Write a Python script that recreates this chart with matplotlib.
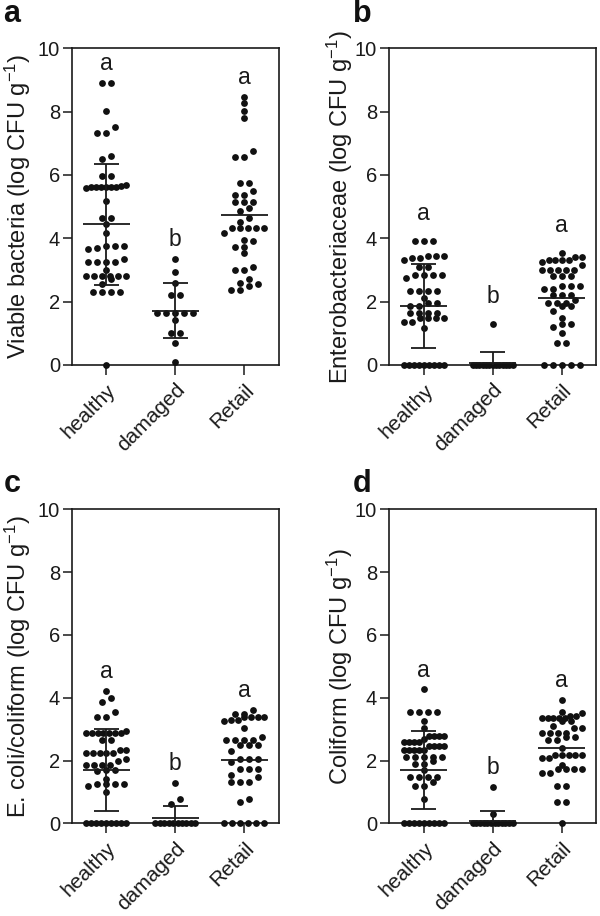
import matplotlib
matplotlib.use('Agg')
import matplotlib.pyplot as plt
import numpy as np

plt.rcParams['font.family'] = ['Liberation Sans', 'DejaVu Sans']
plt.rcParams['mathtext.fontset'] = 'custom'
plt.rcParams['mathtext.rm'] = 'Liberation Sans'
plt.rcParams['mathtext.it'] = 'Liberation Sans:italic'
plt.rcParams['mathtext.bf'] = 'Liberation Sans:bold'

groups = ['healthy', 'damaged', 'Retail']
y_ticks = [0, 2, 4, 6, 8, 10]

# ---- panel a: viable bacteria ----
viable_healthy = [8.92, 8.92, 8.02, 7.5, 7.34, 7.34, 6.61, 6.5, 5.97, 5.97,
                  5.68, 5.63, 5.63, 5.63, 5.66, 5.6, 5.63, 5.63, 5.63, 5.18,
                  4.63, 4.63, 4.44, 4.18, 3.76, 3.76, 3.76, 3.7, 3.65, 3.35,
                  3.26, 3.26, 3.26, 3.26, 3.0, 2.81, 2.81, 2.81, 2.81, 2.81,
                  2.81, 2.7, 2.55, 2.32, 2.32, 2.32, 2.32, 0.0]
viable_damaged = [3.35, 2.95, 2.6, 2.2, 2.2, 1.65, 1.65, 1.65, 1.65, 1.65,
                  1.42, 1.0, 1.0, 0.7, 0.1]
viable_retail = [8.47, 8.26, 8.02, 7.79, 6.76, 6.58, 6.58, 5.76, 5.76, 5.5,
                 5.37, 5.37, 5.16, 5.16, 5.16, 4.95, 4.85, 4.63, 4.5, 4.34,
                 4.34, 4.34, 4.34, 4.34, 4.18, 3.95, 3.9, 3.74, 3.74, 3.55,
                 3.1, 3.0, 3.0, 2.7, 2.6, 2.55, 2.5, 2.37, 2.37]
viable_mean = [4.44, 1.72, 4.74]
viable_sd = [1.91, 0.87, None]
viable_letters = ['a', 'b', 'a']

# ---- panel b: Enterobacteriaceae ----
entero_healthy = [3.92, 3.92, 3.92, 3.45, 3.45, 3.45, 3.38, 3.38, 3.3, 3.1,
                  3.1, 2.85, 2.85, 2.85, 2.85, 2.75, 2.33, 2.33, 2.33, 2.33,
                  2.1, 1.95, 1.95, 1.87, 1.87, 1.65, 1.65, 1.65, 1.65, 1.47,
                  1.47, 1.47, 1.47, 1.35, 1.35, 1.16, 0, 0, 0, 0, 0, 0, 0, 0, 0]
entero_damaged = [1.3, 0, 0, 0, 0, 0, 0, 0, 0, 0, 0, 0, 0, 0]
entero_retail = [3.55, 3.4, 3.4, 3.32, 3.32, 3.32, 3.32, 3.25, 3.15, 3.0,
                 3.0, 3.0, 3.0, 3.0, 2.8, 2.8, 2.8, 2.5, 2.5, 2.5, 2.4, 2.4,
                 2.2, 2.2, 2.2, 2.05, 1.95, 1.95, 1.95, 1.85, 1.85, 1.7, 1.47,
                 1.3, 1.3, 1.2, 1.0, 0.68, 0.68, 0, 0, 0, 0, 0]
entero_mean = [1.87, 0.07, 2.1]
entero_sd = [1.32, 0.33, None]
entero_letters = ['a', 'b', 'a']

# ---- panel c: E. coli/coliform ----
ecoli_healthy = [4.22, 3.98, 3.87, 3.56, 3.4, 3.4, 2.95, 2.87, 2.87, 2.87,
                 2.87, 2.87, 2.87, 2.87, 2.65, 2.65, 2.35, 2.35, 2.25, 2.25,
                 2.25, 2.25, 2.25, 2.05, 2.0, 1.86, 1.86, 1.86, 1.86, 1.7,
                 1.7, 1.65, 1.41, 1.25, 1.25, 1.25, 1.25, 1.2, 0.99,
                 0, 0, 0, 0, 0, 0, 0, 0, 0]
ecoli_damaged = [1.27, 0.76, 0.62, 0, 0, 0, 0, 0, 0, 0, 0, 0, 0]
ecoli_retail = [3.61, 3.48, 3.48, 3.4, 3.4, 3.4, 3.4, 3.3, 3.3, 3.27, 3.03,
                2.74, 2.65, 2.65, 2.65, 2.65, 2.5, 2.5, 2.5, 2.31, 2.05, 2.05,
                2.05, 1.95, 1.72, 1.72, 1.72, 1.55, 1.49, 1.3, 1.3, 1.3, 0.76,
                0.69, 0, 0, 0, 0, 0, 0]
ecoli_mean = [1.69, 0.16, 2.02]
ecoli_sd = [1.31, 0.40, None]
ecoli_letters = ['a', 'b', 'a']

# ---- panel d: Coliform ----
coli_healthy = [4.27, 3.56, 3.56, 3.56, 3.56, 3.27, 3.05, 2.78, 2.78, 2.78,
                2.78, 2.7, 2.6, 2.6, 2.6, 2.6, 2.45, 2.45, 2.45, 2.45, 2.34,
                2.34, 2.34, 2.34, 2.34, 2.12, 2.12, 2.12, 2.12, 2.12, 2.0,
                1.9, 1.9, 1.7, 1.49, 1.49, 1.49, 1.49, 1.3, 1.2, 1.2, 0.76,
                0, 0, 0, 0, 0, 0, 0, 0, 0]
coli_damaged = [1.17, 0.3, 0, 0, 0, 0, 0, 0, 0, 0, 0, 0, 0, 0]
coli_retail = [3.93, 3.56, 3.52, 3.43, 3.43, 3.34, 3.34, 3.34, 3.34, 3.34,
               3.25, 3.25, 3.1, 3.02, 3.02, 2.89, 2.89, 2.89, 2.89, 2.76,
               2.76, 2.65, 2.65, 2.41, 2.18, 2.18, 2.18, 2.18, 2.18, 2.08,
               2.08, 1.86, 1.72, 1.72, 1.72, 1.72, 1.59, 1.59, 1.19, 1.19,
               0.69, 0.69, 0]
coli_mean = [1.70, 0.085, 2.41]
coli_sd = [1.25, 0.31, None]
coli_letters = ['a', 'b', 'a']

ylabels = ['Viable bacteria (log CFU g$^{-1}$)',
           'Enterobacteriaceae (log CFU g$^{-1}$)',
           'E. coli/coliform (log CFU g$^{-1}$)',
           'Coliform (log CFU g$^{-1}$)']
panel_tags = ['a', 'b', 'c', 'd']

panels = [
    ([viable_healthy, viable_damaged, viable_retail], viable_mean, viable_sd, viable_letters, 0.60),
    ([entero_healthy, entero_damaged, entero_retail], entero_mean, entero_sd, entero_letters, 0.85),
    ([ecoli_healthy, ecoli_damaged, ecoli_retail], ecoli_mean, ecoli_sd, ecoli_letters, 0.63),
    ([coli_healthy, coli_damaged, coli_retail], coli_mean, coli_sd, coli_letters, 0.61),
]

W, H = 600, 916
fig = plt.figure(figsize=(W / 100, H / 100), dpi=100)

ink = '#1a1a1a'
ax_rects = [
    (71.7, 48.3, 279.0, 365.0),
    (389.0, 48.3, 596.4, 365.0),
    (71.7, 509.3, 279.0, 823.3),
    (389.0, 509.3, 596.4, 823.3),
]
ylabel_x = [18, 340, 18, 340]
tag_pos = [(12, 14), (362, 14), (12, 484), (362, 484)]


def swarm_offsets(vals, px_per_y, px_per_x, bin_px=6.0, gap_px=9.0, max_half_px=20.0):
    vals = np.asarray(vals, float)
    order = np.argsort(vals, kind='stable')
    offs = np.zeros(len(vals))
    n = len(vals)
    i = 0
    while i < n:
        start = vals[order[i]]
        j = i
        while j < n and (vals[order[j]] - start) * px_per_y < bin_px:
            j += 1
        k = j - i
        spacing = gap_px if k <= 1 else min(gap_px, 2 * max_half_px / (k - 1))
        for m, idx in enumerate(order[i:j]):
            offs[idx] = (m - (k - 1) / 2) * spacing / px_per_x
        i = j
    return offs


for p, (data, means, sds, letters, loff) in enumerate(panels):
    x0, y0, x1, y1 = ax_rects[p]
    ax = fig.add_axes([x0 / W, 1 - y1 / H, (x1 - x0) / W, (y1 - y0) / H])
    ax.set_xlim(-0.5, 2.5)
    ax.set_ylim(0, 10)
    px_per_y = (y1 - y0) / 10.0
    px_per_x = (x1 - x0) / 3.0
    for g, vals in enumerate(data):
        offs = swarm_offsets(vals, px_per_y, px_per_x)
        ax.scatter(g + offs, vals, s=24, color='#111111', linewidths=0,
                   zorder=3, clip_on=False)
        m = means[g]
        ax.hlines(m, g - 0.34, g + 0.34, color=ink, lw=1.3, zorder=4)
        sd = sds[g]
        if sd is not None:
            ax.vlines(g, m - sd, m + sd, color=ink, lw=1.3, zorder=4)
            ax.hlines([m - sd, m + sd], g - 0.18, g + 0.18, color=ink, lw=1.3, zorder=4)
        ax.text(g, max(vals) + loff, letters[g], ha='center', va='center',
                fontsize=16.5, color=ink)
    ax.set_yticks(y_ticks)
    ax.set_xticks(range(len(groups)))
    ax.set_xticklabels(groups, rotation=45, ha='right', rotation_mode='anchor',
                       fontsize=15, color=ink)
    ax.tick_params(axis='y', labelsize=14.5, colors=ink, length=6.5, width=1.1, pad=2)
    ax.tick_params(axis='x', colors=ink, length=7, width=1.1, pad=4)
    for s in ax.spines.values():
        s.set_linewidth(1.2)
        s.set_color(ink)
    fig.text(ylabel_x[p] / W, 1 - ((y0 + y1) / 2) / H, ylabels[p], rotation=90,
             ha='center', va='center', fontsize=17, color=ink)
    tx, ty = tag_pos[p]
    fig.text(tx / W, 1 - ty / H, panel_tags[p], ha='center', va='center',
             fontsize=22, fontweight='bold', color='#111111')

fig.savefig('out.png', dpi=100)
